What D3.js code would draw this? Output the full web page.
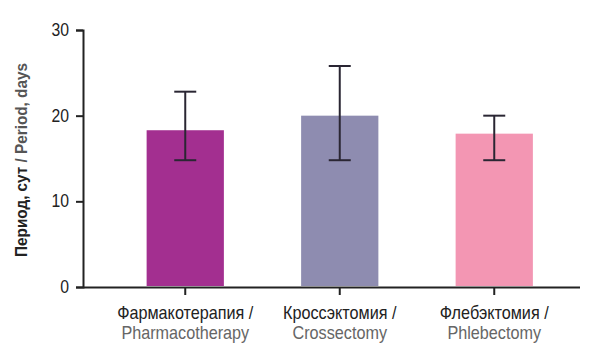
<!DOCTYPE html>
<html>
<head>
<meta charset="utf-8">
<script src="https://cdn.jsdelivr.net/npm/d3@7"></script>
<style>
  body { margin: 0; background: #fff; }
  text { font-family: "Liberation Sans", Arial, sans-serif; }
</style>
</head>
<body>
<svg id="chart" width="600" height="363"></svg>
<script>
  // data
  var groupsRu = ["Фармакотерапия /", "Кроссэктомия /", "Флебэктомия /"]
  var groupsEn = ["Pharmacotherapy", "Crossectomy", "Phlebectomy"]
  var means = [18.3, 20.0, 17.9]
  var errLow = [14.8, 14.8, 14.8]
  var errHigh = [22.8, 25.8, 20.0]
  var colors = ["#a32f90", "#8e8cb0", "#f396b3"]
  var yTicks = [0, 10, 20, 30]

  var narrow = 0.9 // condensed look

  var svg = d3.select("#chart")

  var x = d3.scaleBand()
    .domain(groupsRu)
    .range([108, 571.5])
    .paddingInner(0.5)
    .paddingOuter(0.25)

  var y = d3.scaleLinear()
    .domain([0, 30])
    .range([287, 30])

  // y axis
  var yAxis = svg.append("g")
    .attr("transform", "translate(83,0)")
    .call(d3.axisLeft(y).tickValues(yTicks).tickSize(7).tickPadding(5))
  yAxis.selectAll("text").attr("font-size", 17.5).attr("fill", "#222")
    .attr("font-family", "Liberation Sans")
    .attr("transform", "scale(" + narrow + ",1)")
    .attr("x", -14 / narrow)

  // x axis line + ticks
  var xAxis = svg.append("g")
    .attr("transform", "translate(0,287)")
    .call(d3.axisBottom(x).tickSize(8).tickFormat(""))
  xAxis.select(".domain").attr("d", "M83,0.5H580")

  svg.selectAll(".domain, .tick line")
    .attr("stroke", "#222")
    .attr("stroke-width", 2)

  // bars
  svg.selectAll("rect.bar")
    .data(means)
    .enter()
    .append("rect")
    .attr("class", "bar")
    .attr("x", function(d, i){ return x(groupsRu[i]) })
    .attr("width", x.bandwidth())
    .attr("y", function(d){ return y(d) })
    .attr("height", function(d){ return y(0) - y(d) - 1 })
    .attr("fill", function(d, i){ return colors[i] })

  // error bars
  var eb = svg.selectAll("g.err")
    .data(means)
    .enter()
    .append("g")
    .attr("class", "err")
    .attr("stroke", "#2a2633")
    .attr("stroke-width", 2)
  var cx = function(i){ return x(groupsRu[i]) + x.bandwidth() / 2 }
  eb.append("line")
    .attr("x1", function(d, i){ return cx(i) })
    .attr("x2", function(d, i){ return cx(i) })
    .attr("y1", function(d, i){ return y(errLow[i]) })
    .attr("y2", function(d, i){ return y(errHigh[i]) })
  eb.append("line")
    .attr("x1", function(d, i){ return cx(i) - 11 })
    .attr("x2", function(d, i){ return cx(i) + 11 })
    .attr("y1", function(d, i){ return y(errHigh[i]) })
    .attr("y2", function(d, i){ return y(errHigh[i]) })
  eb.append("line")
    .attr("x1", function(d, i){ return cx(i) - 11 })
    .attr("x2", function(d, i){ return cx(i) + 11 })
    .attr("y1", function(d, i){ return y(errLow[i]) })
    .attr("y2", function(d, i){ return y(errLow[i]) })

  // category labels
  var lab = svg.selectAll("g.cat")
    .data(groupsRu)
    .enter()
    .append("g")
    .attr("class", "cat")
    .attr("transform", function(d){
      return "translate(" + (x(d) + x.bandwidth() / 2) + ",0) scale(" + narrow + ",1)"
    })
  lab.append("text")
    .attr("text-anchor", "middle")
    .attr("font-size", 18)
    .attr("y", 319)
    .attr("fill", "#222")
    .text(function(d){ return d })
  lab.append("text")
    .attr("text-anchor", "middle")
    .attr("font-size", 18)
    .attr("y", 339)
    .attr("fill", "#666")
    .text(function(d, i){ return groupsEn[i] })

  // y axis title
  var yt = svg.append("text")
    .attr("transform", "translate(27,160) rotate(-90) scale(" + narrow + ",1)")
    .attr("text-anchor", "middle")
    .attr("font-size", 17)
  yt.append("tspan").attr("font-weight", "bold").attr("fill", "#222").text("Период, сут ")
  yt.append("tspan").attr("font-weight", "bold").attr("fill", "#555").text("/ Period, days")
</script>
</body>
</html>
